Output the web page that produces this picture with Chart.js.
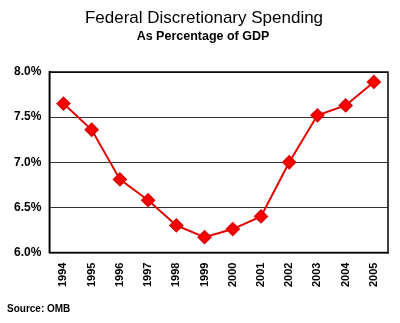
<!DOCTYPE html>
<html>
<head>
<meta charset="utf-8">
<script src="https://cdn.jsdelivr.net/npm/chart.js@4"></script>
<style>
  html, body { margin: 0; padding: 0; background: #fff; }
  #wrap { width: 400px; height: 323px; }
</style>
</head>
<body>
<div id="wrap"><canvas id="spendChart" width="400" height="323"></canvas></div>
<script>
const years = ["1994", "1995", "1996", "1997", "1998", "1999", "2000", "2001", "2002", "2003", "2004", "2005"];
const pctGdp = [7.65, 7.36, 6.81, 6.58, 6.30, 6.17, 6.26, 6.40, 7.00, 7.52, 7.63, 7.89];
const yTicks = [6.0, 6.5, 7.0, 7.5, 8.0];

const fontFamily = "'Liberation Sans', Arial, sans-serif";

// titles, frame around plot area, source note
const extras = {
  id: "extras",
  afterDraw(chart) {
    const { ctx, chartArea: a } = chart;
    ctx.save();
    ctx.strokeStyle = "#000";
    ctx.lineWidth = 1.5;
    ctx.strokeRect(a.left, a.top, a.right - a.left, a.bottom - a.top);
    ctx.fillStyle = "#000";
    ctx.textBaseline = "middle";
    ctx.textAlign = "center";
    ctx.font = "17px " + fontFamily;
    ctx.fillText("Federal Discretionary Spending", 204, 18);
    ctx.font = "bold 12.5px " + fontFamily;
    ctx.fillText("As Percentage of GDP", 203, 37);
    ctx.textAlign = "left";
    ctx.font = "bold 10px " + fontFamily;
    ctx.fillText("Source: OMB", 7, 309);
    ctx.restore();
  }
};

new Chart(document.getElementById("spendChart"), {
  type: "line",
  data: {
    labels: years,
    datasets: [{
      label: "Discretionary spending",
      data: pctGdp,
      borderColor: "#e00000",
      backgroundColor: "#ff0000",
      borderWidth: 2,
      pointStyle: "rectRot",
      pointRadius: 6,
      pointBorderColor: "#e00000",
      pointBackgroundColor: "#ff0000",
      tension: 0,
    }],
  },
  options: {
    responsive: false,
    animation: false,
    layout: { padding: { left: 6, right: 12, top: 72, bottom: 34 } },
    plugins: {
      legend: { display: false },
      tooltip: { enabled: false },
      title: { display: false },
    },
    scales: {
      x: {
        offset: true,
        grid: { display: false },
        border: { display: true, color: "#000", width: 1.5 },
        ticks: {
          color: "#000",
          font: { family: fontFamily, size: 11, weight: "bold" },
          maxRotation: 90,
          minRotation: 90,
          padding: 2,
        },
      },
      y: {
        min: 6,
        max: 8,
        afterBuildTicks(scale) {
          scale.ticks = yTicks.map(v => ({ value: v }));
        },
        grid: { color: "#333", lineWidth: 1, drawTicks: false },
        border: { display: true, color: "#000", width: 1.5 },
        ticks: {
          color: "#000",
          font: { family: fontFamily, size: 12, weight: "bold" },
          padding: 8,
          callback: v => v.toFixed(1) + "%",
        },
      },
    },
  },
  plugins: [extras],
});
</script>
</body>
</html>
